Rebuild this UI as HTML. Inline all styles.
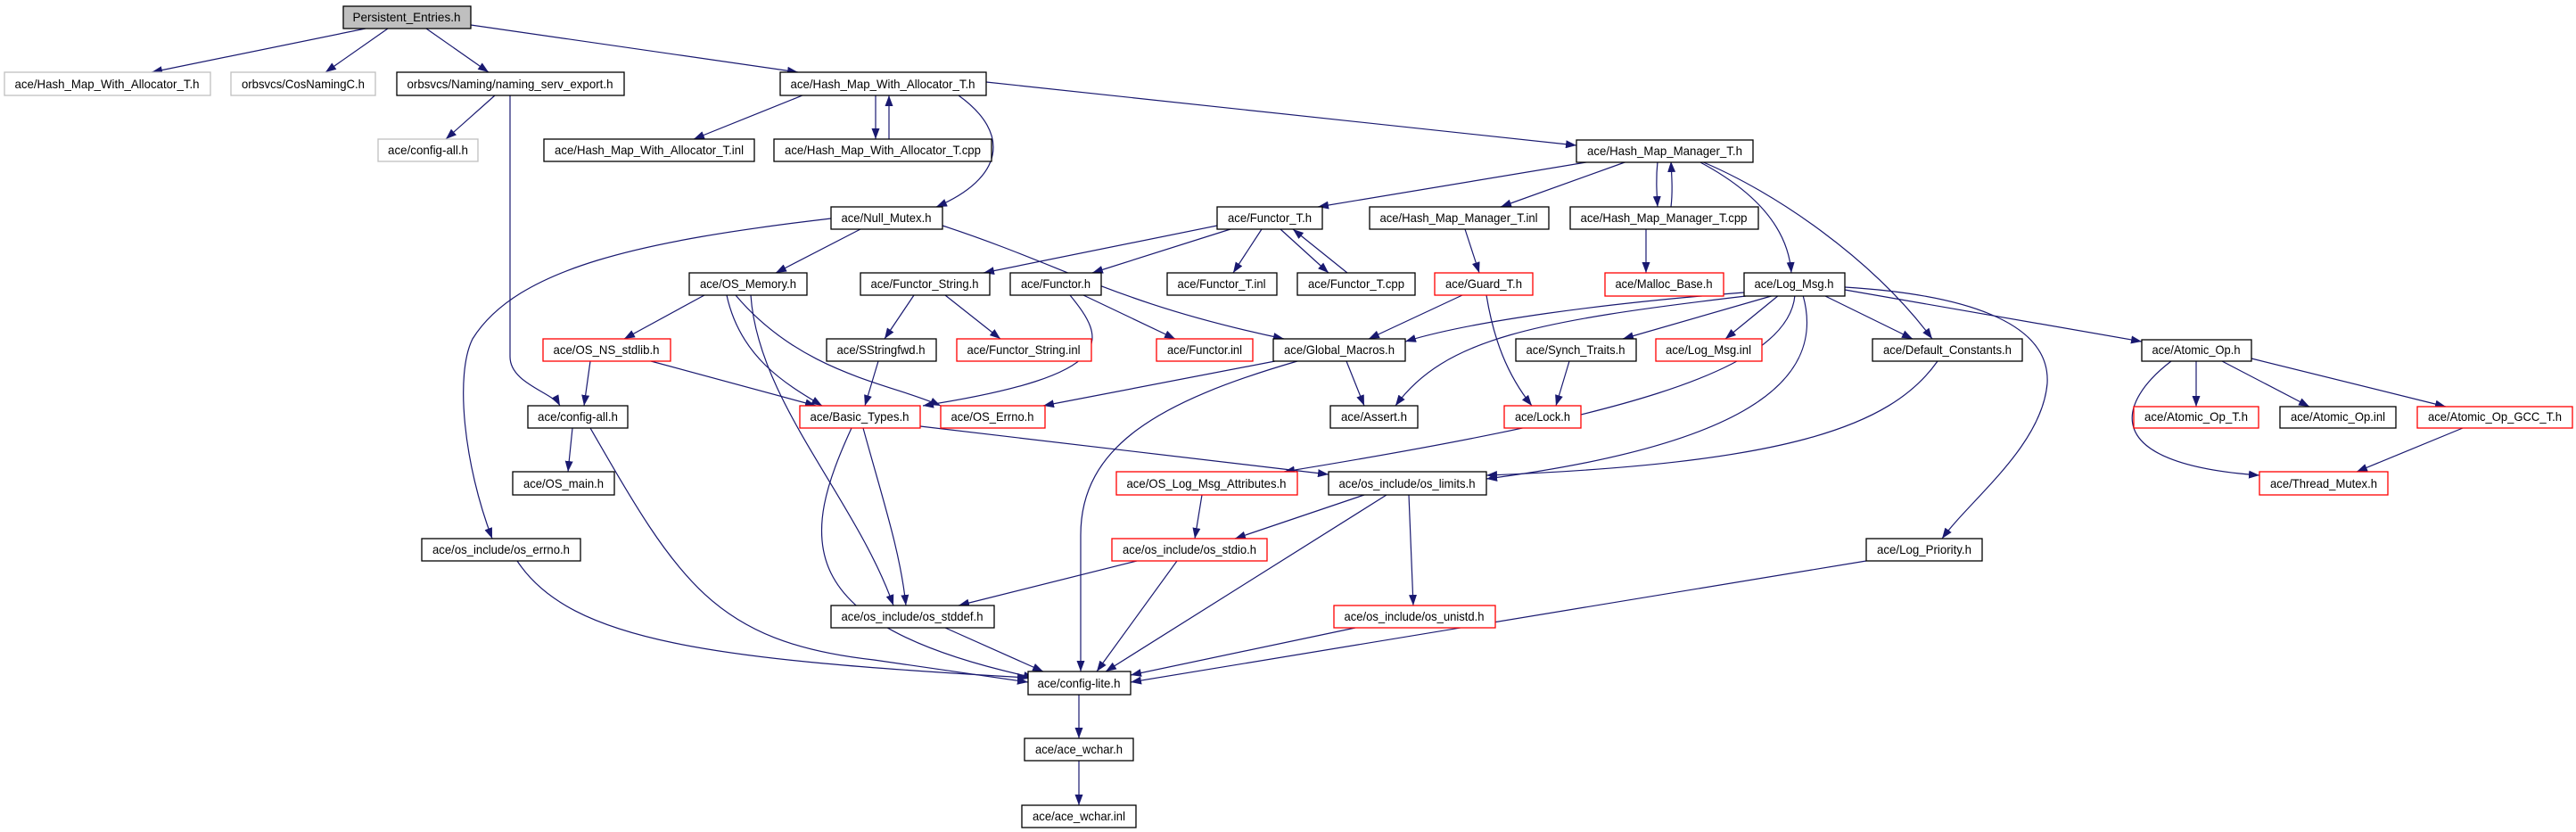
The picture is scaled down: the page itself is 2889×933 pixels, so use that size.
<!DOCTYPE html>
<html><head><meta charset="utf-8"><style>
html,body{margin:0;padding:0;background:#fff;}
svg{display:block;}
text{font-family:"Liberation Sans",sans-serif;font-size:14px;fill:#000;}
</style></head><body>
<svg width="2889" height="933" viewBox="0 0 2889 933" xmlns="http://www.w3.org/2000/svg">
<defs>
<marker id="a" markerUnits="userSpaceOnUse" markerWidth="13" markerHeight="9" refX="12" refY="4.5" orient="auto">
<path d="M0,0 L12,4.5 L0,9 z" fill="#191970"/>
</marker>
</defs>
<g fill="none" stroke="#191970" stroke-width="1.2" marker-end="url(#a)">
<path d="M410,32 L170,81"/>
<path d="M435,32 L365,81"/>
<path d="M478,32 L548,81"/>
<path d="M528,28 L895,81"/>
<path d="M555,107 L500,156"/>
<path d="M572,107 L572,400 C572,430 620,440 628,455"/>
<path d="M900,107 L778,156"/>
<path d="M982,107 L982,156"/>
<path d="M997,156 L997,107"/>
<path d="M1075,107 C1135,150 1125,200 1050,232"/>
<path d="M1106,92 L1768,163"/>
<path d="M1785,181 L1478,232"/>
<path d="M1825,181 L1683,232"/>
<path d="M1859,181 C1857,200 1858,215 1859,232"/>
<path d="M1874,232 C1876,215 1875,200 1874,181"/>
<path d="M1905,181 C1960,210 2005,250 2009,306"/>
<path d="M1908,181 C1990,215 2100,290 2167,380"/>
<path d="M932,245 C720,270 580,300 530,380 C510,420 520,520 552,604"/>
<path d="M965,257 L870,306"/>
<path d="M1057,253 C1200,300 1250,340 1440,380"/>
<path d="M1365,253 L1103,306"/>
<path d="M1380,257 L1225,306"/>
<path d="M1415,257 L1383,306"/>
<path d="M1436,257 L1490,306"/>
<path d="M1511,306 L1450,257"/>
<path d="M1643,257 L1659,306"/>
<path d="M1846,257 L1846,306"/>
<path d="M790,331 L700,380"/>
<path d="M815,331 C830,400 880,430 922,455"/>
<path d="M825,331 C900,420 1000,430 1055,455"/>
<path d="M842,331 C850,450 960,560 1002,679"/>
<path d="M1025,331 L992,380"/>
<path d="M1060,331 L1122,380"/>
<path d="M1200,331 C1240,380 1260,420 1035,455"/>
<path d="M1215,331 L1318,380"/>
<path d="M1640,331 L1535,380"/>
<path d="M1667,331 C1675,380 1690,420 1718,455"/>
<path d="M1956,328 C1800,340 1650,360 1576,383"/>
<path d="M1958,332 C1720,360 1620,380 1565,455"/>
<path d="M1990,331 L1820,380"/>
<path d="M1995,331 L1935,380"/>
<path d="M2045,331 L2145,380"/>
<path d="M2069,325 L2402,383"/>
<path d="M2069,322 C2200,330 2300,360 2296,430 C2290,500 2210,560 2178,604"/>
<path d="M2013,331 C2005,420 1800,470 1440,529"/>
<path d="M2022,331 C2050,430 1950,500 1667,537"/>
<path d="M2173,405 C2120,480 2000,520 1667,533"/>
<path d="M662,405 L655,455"/>
<path d="M730,405 L915,455"/>
<path d="M985,405 L970,455"/>
<path d="M1430,405 L1170,455"/>
<path d="M1455,405 C1300,450 1212,500 1212,600 L1212,753"/>
<path d="M1510,405 L1530,455"/>
<path d="M1760,405 L1745,455"/>
<path d="M2435,405 C2376,450 2350,520 2534,533"/>
<path d="M2463,405 L2463,456"/>
<path d="M2492,405 L2590,456"/>
<path d="M2525,402 L2743,456"/>
<path d="M2762,480 L2643,529"/>
<path d="M642,480 L637,529"/>
<path d="M662,480 C760,650 800,720 980,740 L1153,765"/>
<path d="M1032,478 L1490,532"/>
<path d="M955,480 C900,600 880,700 1160,760"/>
<path d="M968,480 C990,560 1010,620 1016,679"/>
<path d="M1348,555 L1340,604"/>
<path d="M1530,555 L1385,604"/>
<path d="M1555,555 L1240,753"/>
<path d="M1580,555 L1585,679"/>
<path d="M580,629 C640,720 800,740 1153,760"/>
<path d="M1275,629 L1075,679"/>
<path d="M1320,629 L1230,753"/>
<path d="M2093,629 L1268,765"/>
<path d="M1060,704 L1170,753"/>
<path d="M1520,704 L1268,757"/>
<path d="M1210,779 L1210,828"/>
<path d="M1210,853 L1210,903"/>
</g>
<g stroke-width="1.3" fill="#fff">
<rect x="385" y="7" width="143" height="25" fill="#bfbfbf" stroke="#000"/>
<rect x="5" y="81" width="231" height="26" stroke="#bfbfbf"/>
<rect x="259" y="81" width="162" height="26" stroke="#bfbfbf"/>
<rect x="445" y="81" width="255" height="26" stroke="#000"/>
<rect x="875" y="81" width="231" height="26" stroke="#000"/>
<rect x="424" y="156" width="112" height="25" stroke="#bfbfbf"/>
<rect x="610" y="156" width="236" height="25" stroke="#000"/>
<rect x="868" y="156" width="244" height="25" stroke="#000"/>
<rect x="1768" y="157" width="198" height="25" stroke="#000"/>
<rect x="932" y="232" width="125" height="25" stroke="#000"/>
<rect x="1365" y="232" width="118" height="25" stroke="#000"/>
<rect x="1536" y="232" width="201" height="25" stroke="#000"/>
<rect x="1761" y="232" width="211" height="25" stroke="#000"/>
<rect x="773" y="306" width="132" height="25" stroke="#000"/>
<rect x="965" y="306" width="145" height="25" stroke="#000"/>
<rect x="1133" y="306" width="102" height="25" stroke="#000"/>
<rect x="1309" y="306" width="123" height="25" stroke="#000"/>
<rect x="1455" y="306" width="132" height="25" stroke="#000"/>
<rect x="1609" y="306" width="110" height="25" stroke="#f00"/>
<rect x="1800" y="306" width="133" height="26" stroke="#f00"/>
<rect x="1956" y="306" width="113" height="26" stroke="#000"/>
<rect x="609" y="380" width="143" height="25" stroke="#f00"/>
<rect x="927" y="380" width="123" height="25" stroke="#000"/>
<rect x="1073" y="380" width="151" height="25" stroke="#f00"/>
<rect x="1297" y="380" width="108" height="25" stroke="#f00"/>
<rect x="1428" y="380" width="148" height="25" stroke="#000"/>
<rect x="1700" y="380" width="135" height="25" stroke="#000"/>
<rect x="1857" y="380" width="119" height="25" stroke="#f00"/>
<rect x="2100" y="380" width="168" height="25" stroke="#000"/>
<rect x="2402" y="381" width="123" height="24" stroke="#000"/>
<rect x="592" y="455" width="112" height="25" stroke="#000"/>
<rect x="897" y="455" width="135" height="25" stroke="#f00"/>
<rect x="1055" y="455" width="117" height="25" stroke="#f00"/>
<rect x="1492" y="455" width="98" height="25" stroke="#000"/>
<rect x="1687" y="455" width="86" height="25" stroke="#f00"/>
<rect x="2393" y="456" width="140" height="24" stroke="#f00"/>
<rect x="2557" y="456" width="130" height="24" stroke="#000"/>
<rect x="2711" y="456" width="174" height="24" stroke="#f00"/>
<rect x="575" y="529" width="114" height="26" stroke="#000"/>
<rect x="1252" y="529" width="203" height="26" stroke="#f00"/>
<rect x="1490" y="529" width="177" height="26" stroke="#000"/>
<rect x="2534" y="529" width="144" height="26" stroke="#f00"/>
<rect x="473" y="604" width="178" height="25" stroke="#000"/>
<rect x="1247" y="604" width="174" height="25" stroke="#f00"/>
<rect x="2093" y="604" width="130" height="25" stroke="#000"/>
<rect x="932" y="679" width="183" height="25" stroke="#000"/>
<rect x="1496" y="679" width="181" height="25" stroke="#f00"/>
<rect x="1153" y="753" width="115" height="26" stroke="#000"/>
<rect x="1149" y="828" width="122" height="25" stroke="#000"/>
<rect x="1146" y="903" width="128" height="25" stroke="#000"/>
</g>
<g text-anchor="middle" lengthAdjust="spacingAndGlyphs">
<text x="456" y="24" textLength="121" lengthAdjust="spacingAndGlyphs">Persistent_Entries.h</text>
<text x="120" y="99" textLength="207" lengthAdjust="spacingAndGlyphs">ace/Hash_Map_With_Allocator_T.h</text>
<text x="340" y="99" textLength="138" lengthAdjust="spacingAndGlyphs">orbsvcs/CosNamingC.h</text>
<text x="572" y="99" textLength="231" lengthAdjust="spacingAndGlyphs">orbsvcs/Naming/naming_serv_export.h</text>
<text x="990" y="99" textLength="207" lengthAdjust="spacingAndGlyphs">ace/Hash_Map_With_Allocator_T.h</text>
<text x="480" y="173" textLength="90" lengthAdjust="spacingAndGlyphs">ace/config-all.h</text>
<text x="728" y="173" textLength="212" lengthAdjust="spacingAndGlyphs">ace/Hash_Map_With_Allocator_T.inl</text>
<text x="990" y="173" textLength="220" lengthAdjust="spacingAndGlyphs">ace/Hash_Map_With_Allocator_T.cpp</text>
<text x="1867" y="174" textLength="174" lengthAdjust="spacingAndGlyphs">ace/Hash_Map_Manager_T.h</text>
<text x="994" y="249" textLength="101" lengthAdjust="spacingAndGlyphs">ace/Null_Mutex.h</text>
<text x="1424" y="249" textLength="94" lengthAdjust="spacingAndGlyphs">ace/Functor_T.h</text>
<text x="1636" y="249" textLength="177" lengthAdjust="spacingAndGlyphs">ace/Hash_Map_Manager_T.inl</text>
<text x="1866" y="249" textLength="187" lengthAdjust="spacingAndGlyphs">ace/Hash_Map_Manager_T.cpp</text>
<text x="839" y="323" textLength="108" lengthAdjust="spacingAndGlyphs">ace/OS_Memory.h</text>
<text x="1037" y="323" textLength="121" lengthAdjust="spacingAndGlyphs">ace/Functor_String.h</text>
<text x="1184" y="323" textLength="78" lengthAdjust="spacingAndGlyphs">ace/Functor.h</text>
<text x="1370" y="323" textLength="99" lengthAdjust="spacingAndGlyphs">ace/Functor_T.inl</text>
<text x="1521" y="323" textLength="108" lengthAdjust="spacingAndGlyphs">ace/Functor_T.cpp</text>
<text x="1664" y="323" textLength="86" lengthAdjust="spacingAndGlyphs">ace/Guard_T.h</text>
<text x="1866" y="323" textLength="109" lengthAdjust="spacingAndGlyphs">ace/Malloc_Base.h</text>
<text x="2012" y="323" textLength="89" lengthAdjust="spacingAndGlyphs">ace/Log_Msg.h</text>
<text x="680" y="397" textLength="119" lengthAdjust="spacingAndGlyphs">ace/OS_NS_stdlib.h</text>
<text x="988" y="397" textLength="99" lengthAdjust="spacingAndGlyphs">ace/SStringfwd.h</text>
<text x="1148" y="397" textLength="127" lengthAdjust="spacingAndGlyphs">ace/Functor_String.inl</text>
<text x="1351" y="397" textLength="84" lengthAdjust="spacingAndGlyphs">ace/Functor.inl</text>
<text x="1502" y="397" textLength="124" lengthAdjust="spacingAndGlyphs">ace/Global_Macros.h</text>
<text x="1767" y="397" textLength="111" lengthAdjust="spacingAndGlyphs">ace/Synch_Traits.h</text>
<text x="1916" y="397" textLength="96" lengthAdjust="spacingAndGlyphs">ace/Log_Msg.inl</text>
<text x="2184" y="397" textLength="144" lengthAdjust="spacingAndGlyphs">ace/Default_Constants.h</text>
<text x="2463" y="397" textLength="99" lengthAdjust="spacingAndGlyphs">ace/Atomic_Op.h</text>
<text x="648" y="472" textLength="90" lengthAdjust="spacingAndGlyphs">ace/config-all.h</text>
<text x="964" y="472" textLength="111" lengthAdjust="spacingAndGlyphs">ace/Basic_Types.h</text>
<text x="1113" y="472" textLength="93" lengthAdjust="spacingAndGlyphs">ace/OS_Errno.h</text>
<text x="1541" y="472" textLength="74" lengthAdjust="spacingAndGlyphs">ace/Assert.h</text>
<text x="1730" y="472" textLength="62" lengthAdjust="spacingAndGlyphs">ace/Lock.h</text>
<text x="2463" y="472" textLength="116" lengthAdjust="spacingAndGlyphs">ace/Atomic_Op_T.h</text>
<text x="2622" y="472" textLength="106" lengthAdjust="spacingAndGlyphs">ace/Atomic_Op.inl</text>
<text x="2798" y="472" textLength="150" lengthAdjust="spacingAndGlyphs">ace/Atomic_Op_GCC_T.h</text>
<text x="632" y="547" textLength="90" lengthAdjust="spacingAndGlyphs">ace/OS_main.h</text>
<text x="1353" y="547" textLength="179" lengthAdjust="spacingAndGlyphs">ace/OS_Log_Msg_Attributes.h</text>
<text x="1578" y="547" textLength="153" lengthAdjust="spacingAndGlyphs">ace/os_include/os_limits.h</text>
<text x="2606" y="547" textLength="120" lengthAdjust="spacingAndGlyphs">ace/Thread_Mutex.h</text>
<text x="562" y="621" textLength="154" lengthAdjust="spacingAndGlyphs">ace/os_include/os_errno.h</text>
<text x="1334" y="621" textLength="150" lengthAdjust="spacingAndGlyphs">ace/os_include/os_stdio.h</text>
<text x="2158" y="621" textLength="106" lengthAdjust="spacingAndGlyphs">ace/Log_Priority.h</text>
<text x="1023" y="696" textLength="159" lengthAdjust="spacingAndGlyphs">ace/os_include/os_stddef.h</text>
<text x="1586" y="696" textLength="157" lengthAdjust="spacingAndGlyphs">ace/os_include/os_unistd.h</text>
<text x="1210" y="771" textLength="93" lengthAdjust="spacingAndGlyphs">ace/config-lite.h</text>
<text x="1210" y="845" textLength="98" lengthAdjust="spacingAndGlyphs">ace/ace_wchar.h</text>
<text x="1210" y="920" textLength="104" lengthAdjust="spacingAndGlyphs">ace/ace_wchar.inl</text>
</g>
</svg>
</body></html>
